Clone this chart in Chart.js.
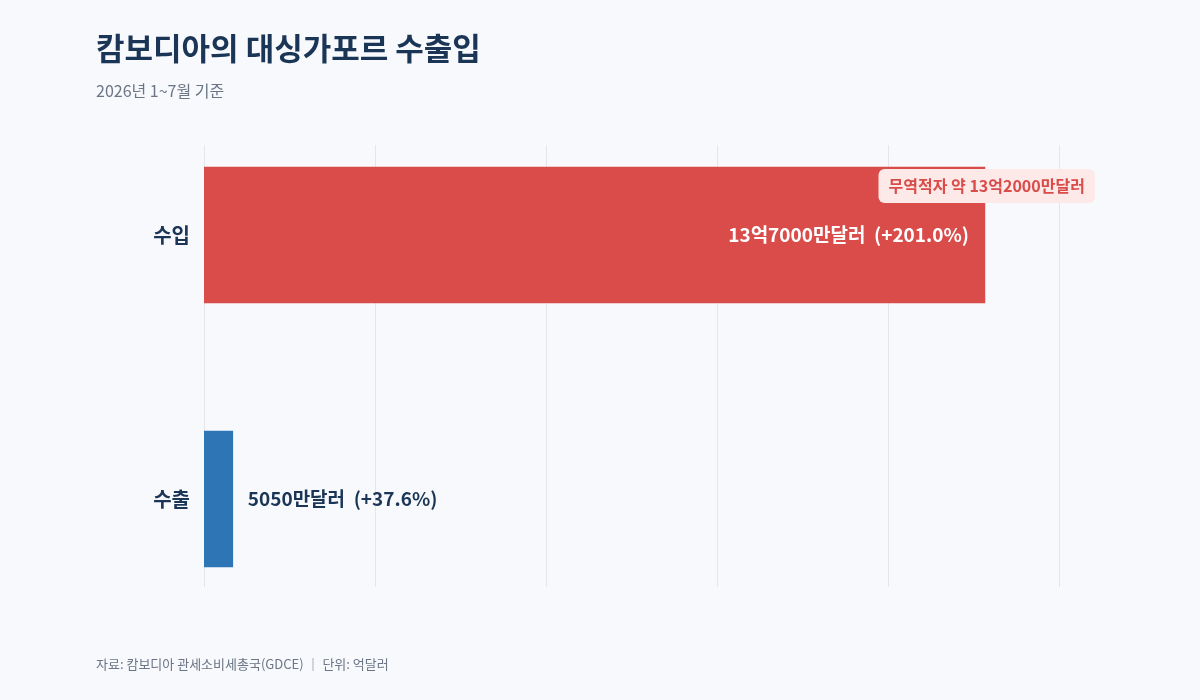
<!DOCTYPE html>
<html><head><meta charset="utf-8">
<script src="https://cdn.jsdelivr.net/npm/chart.js@4/dist/chart.umd.min.js"></script>
<style>
body{margin:0;background:#f7f9fc;font-family:"Noto Sans CJK KR","Noto Sans",sans-serif;}
#wrap{position:relative;width:1200px;height:700px;}
h1{position:absolute;left:96px;top:24px;margin:0;font-size:31px;color:#1b3556;font-weight:700;}
.sub{position:absolute;left:96px;top:78px;font-size:16px;color:#6b7585;}
.src{position:absolute;left:96px;top:654px;font-size:13px;color:#6b7585;}
canvas{position:absolute;left:0;top:0;}
</style></head><body>
<div id="wrap">
<canvas id="c" width="1200" height="700"></canvas>
<h1>캄보디아의 대싱가포르 수출입</h1>
<div class="sub">2026년 1~7월 기준</div>
<div class="src">자료: 캄보디아 관세소비세총국(GDCE) │ 단위: 억달러</div>
</div>
<script>
// 단위: 억달러
const categories = ['수입', '수출'];
const values = [13.7, 0.505];
const valueLabels = ['13억7000만달러  (+201.0%)', '5050만달러  (+37.6%)'];
const barColors = ['#d94c4a', '#2e75b6'];
const xTicks = [0, 3, 6, 9, 12, 15];
const deficitLabel = '무역적자 약 13억2000만달러';

const font = '"Noto Sans CJK KR","Noto Sans",sans-serif';

// vertical grid lines, shorter than the chart area
const gridPlugin = {
    id: 'grid',
    beforeDatasetsDraw(chart) {
        const ctx = chart.ctx, xs = chart.scales.x;
        ctx.save();
        ctx.strokeStyle = '#e3e6eb';
        ctx.lineWidth = 1;
        xTicks.forEach(v => {
            const px = Math.round(xs.getPixelForValue(v)) + 0.5;
            ctx.beginPath();
            ctx.moveTo(px, 145);
            ctx.lineTo(px, 587);
            ctx.stroke();
        });
        ctx.restore();
    }
};

const labelPlugin = {
    id: 'labels',
    afterDatasetsDraw(chart) {
        const ctx = chart.ctx;
        const meta = chart.getDatasetMeta(0);
        ctx.save();
        ctx.font = `bold 19px ${font}`;
        ctx.textBaseline = 'middle';
        meta.data.forEach((bar, i) => {
            if (i === 0) {
                ctx.fillStyle = '#ffffff';
                ctx.textAlign = 'right';
                ctx.fillText(valueLabels[i], bar.x - 16, bar.y);
            } else {
                ctx.fillStyle = '#1b3556';
                ctx.textAlign = 'left';
                ctx.fillText(valueLabels[i], bar.x + 15, bar.y);
            }
        });
        const top = meta.data[0];
        ctx.font = `bold 16px ${font}`;
        const w = ctx.measureText(deficitLabel).width + 20;
        const x = top.x + 110 - w, y = top.y - 66;
        ctx.fillStyle = '#fde9e7';
        ctx.beginPath();
        ctx.roundRect(x, y, w, 34, 6);
        ctx.fill();
        ctx.fillStyle = '#d94c4a';
        ctx.textAlign = 'left';
        ctx.fillText(deficitLabel, x + 10, y + 17);
        ctx.restore();
    }
};

new Chart(document.getElementById('c'), {
    type: 'bar',
    data: {
        labels: categories,
        datasets: [{
            data: values,
            backgroundColor: barColors,
            barThickness: 136
        }]
    },
    options: {
        indexAxis: 'y',
        responsive: false,
        animation: false,
        layout: { padding: { top: 103, bottom: 45, right: 141, left: 0 } },
        plugins: { legend: { display: false }, tooltip: { enabled: false } },
        scales: {
            x: {
                min: 0, max: 15,
                afterBuildTicks: s => { s.ticks = xTicks.map(v => ({ value: v })); },
                afterFit: s => { s.height = 24; },
                grid: { display: false },
                border: { display: false },
                ticks: { color: '#6b7585', font: { size: 13, family: font }, padding: -32 }
            },
            y: {
                afterFit: s => { s.width = 204; },
                grid: { display: false },
                border: { display: false },
                ticks: {
                    color: '#1b3556',
                    font: { size: 20, weight: 'bold', family: font },
                    padding: 6
                }
            }
        }
    },
    plugins: [gridPlugin, labelPlugin]
});
</script>
</body></html>
